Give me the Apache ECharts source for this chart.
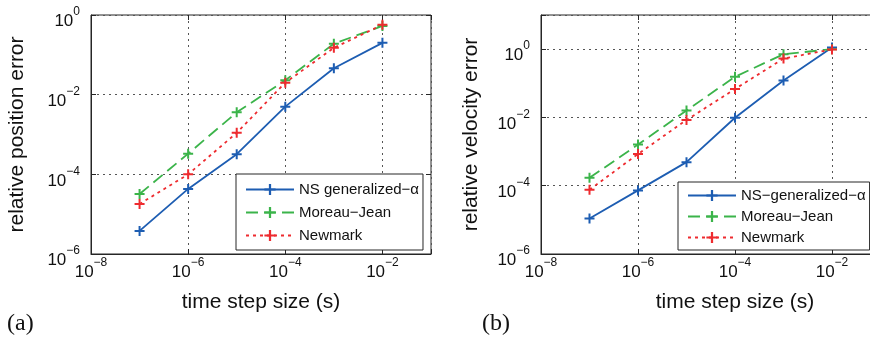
<!DOCTYPE html>
<html>
<head>
<meta charset="utf-8">
<script src="https://cdn.jsdelivr.net/npm/echarts@6/dist/echarts.min.js"></script>
<style>
  html, body { margin: 0; padding: 0; background: #fff; overflow: hidden; width: 870px; height: 340px; }
  /* the right panel runs past the page edge, so the canvas is wider than the page */
  #chart { width: 940px; height: 340px; }
</style>
</head>
<body>
<div id="chart"></div>
<script>
// Time step sizes used in the convergence study (s)
var stepSizes = [1e-7, 1e-6, 1e-5, 1e-4, 1e-3, 1e-2];

// (a) relative position error
var posNSGeneralizedAlpha = [3.8e-6, 4.3e-5, 3.2e-4, 5.0e-3, 0.046, 0.20];
var posMoreauJean = [3.2e-5, 3.3e-4, 3.6e-3, 0.023, 0.19, 0.53];
var posNewmark = [1.8e-5, 1.0e-4, 1.1e-3, 0.020, 0.15, 0.57];

// (b) relative velocity error
var velNSGeneralizedAlpha = [1.1e-5, 7.3e-5, 4.9e-4, 9.8e-3, 0.12, 1.12];
var velMoreauJean = [1.7e-4, 1.6e-3, 0.016, 0.155, 0.71, 1.0];
var velNewmark = [7.6e-5, 8.5e-4, 8.4e-3, 0.068, 0.53, 0.98];

// Labelled decades on the axes
var xTickValues = [1e-8, 1e-6, 1e-4, 1e-2];
var yTickValues = [1e-6, 1e-4, 1e-2, 1e0];

var names = {
  nsA: 'NS generalized\u2212\u03b1',
  nsB: 'NS\u2212generalized\u2212\u03b1',
  mj: 'Moreau\u2212Jean',
  nm: 'Newmark'
};

var colors = { blue: '#1d5db2', green: '#3bb44a', red: '#ee2b2f' };
var frameColor = '#262626';
var sansFont = '"Liberation Sans", Arial, Helvetica, sans-serif';

// plus-shaped marker
var plusSymbol = 'path://M4,0 L6,0 L6,4 L10,4 L10,6 L6,6 L6,10 L4,10 L4,6 L0,6 L0,4 L4,4 Z';

function pairs(xs, ys) {
  return xs.map(function (x, i) { return [x, ys[i]]; });
}

function exponentOf(v) {
  return Math.round(Math.log10(v));
}

function isLabelled(list, v) {
  var e = exponentOf(v);
  return list.some(function (t) { return exponentOf(t) === e; }) &&
    Math.abs(Math.log10(v) - e) < 1e-6;
}

function powerLabel(list) {
  return function (v) {
    if (!isLabelled(list, v)) return '';
    var e = exponentOf(v);
    var s = e < 0 ? '\u2212' + Math.abs(e) : String(e);
    return '{b|10}{s|' + s + '}';
  };
}

var richPow = {
  b: { fontSize: 17, fontFamily: sansFont, color: '#111', lineHeight: 24, verticalAlign: 'bottom' },
  s: { fontSize: 12, fontFamily: sansFont, color: '#111', lineHeight: 24, verticalAlign: 'top' }
};

function xAxisFor(gridIndex, bottom, max) {
  return {
    type: 'log',
    logBase: 10,
    gridIndex: gridIndex,
    position: bottom ? 'bottom' : 'top',
    min: 1e-8,
    max: max,
    interval: 2,
    name: bottom ? 'time step size (s)' : '',
    nameLocation: 'middle',
    nameGap: 38,
    nameTextStyle: { fontSize: 21, fontFamily: sansFont, color: '#111' },
    axisLine: { show: bottom, lineStyle: { color: frameColor, width: 1 } },
    axisTick: { show: true, inside: true, length: 5, lineStyle: { color: frameColor } },
    minorTick: { show: false },
    axisLabel: {
      show: bottom,
      margin: 3,
      formatter: powerLabel(xTickValues),
      rich: richPow
    },
    splitLine: {
      show: bottom,
      lineStyle: { color: '#555', type: [2, 4], width: 1 }
    }
  };
}

function yAxisFor(gridIndex, left, max, title, nameGap) {
  return {
    type: 'log',
    logBase: 10,
    gridIndex: gridIndex,
    position: left ? 'left' : 'right',
    min: 1e-6,
    max: max,
    interval: 2,
    name: left ? title : '',
    nameLocation: 'middle',
    nameGap: nameGap,
    nameTextStyle: { fontSize: 21, fontFamily: sansFont, color: '#111' },
    axisLine: { show: left, lineStyle: { color: frameColor, width: 1 } },
    axisTick: { show: true, inside: true, length: 5, lineStyle: { color: frameColor } },
    minorTick: { show: false },
    axisLabel: {
      show: left,
      margin: 11,
      padding: [6, 0, 0, 0],
      formatter: powerLabel(yTickValues),
      rich: richPow
    },
    splitLine: {
      show: left,
      lineStyle: { color: '#555', type: [2, 4], width: 1 }
    }
  };
}

function lineSeries(name, xIdx, yIdx, ys, color, dash) {
  return {
    type: 'line',
    name: name,
    xAxisIndex: xIdx,
    yAxisIndex: yIdx,
    data: pairs(stepSizes, ys),
    symbol: plusSymbol,
    symbolSize: 10,
    showAllSymbol: true,
    animation: false,
    lineStyle: { color: color, width: 1.8, type: dash },
    itemStyle: { color: color },
    z: 3
  };
}

var legendText = { fontSize: 15, fontFamily: sansFont, color: '#111', lineHeight: 14 };

var option = {
  backgroundColor: '#fff',
  animation: false,
  grid: [
    { left: 91, top: 15, width: 340, height: 239, show: true, borderColor: frameColor, borderWidth: 1, backgroundColor: 'transparent' },
    { left: 541, top: 15, width: 388, height: 239, show: true, borderColor: frameColor, borderWidth: 1, backgroundColor: 'transparent' }
  ],
  xAxis: [
    xAxisFor(0, true, 1e-1),
    xAxisFor(0, false, 1e-1),
    xAxisFor(1, true, 1e0),
    xAxisFor(1, false, 1e0)
  ],
  yAxis: [
    yAxisFor(0, true, 1e0, 'relative position error', 63),
    yAxisFor(0, false, 1e0, '', 0),
    yAxisFor(1, true, 1e1, 'relative velocity error', 59),
    yAxisFor(1, false, 1e1, '', 0)
  ],
  legend: [
    {
      orient: 'vertical',
      left: 236,
      top: 174,
      padding: [8, 4, 7, 9],
      itemWidth: 48,
      itemHeight: 14,
      itemGap: 8,
      borderColor: frameColor,
      borderWidth: 1,
      backgroundColor: '#fff',
      selectedMode: false,
      textStyle: legendText,
      data: [names.nsA, names.mj, names.nm]
    },
    {
      orient: 'vertical',
      left: 678,
      top: 182,
      padding: [6, 4, 5, 9],
      itemWidth: 48,
      itemHeight: 14,
      itemGap: 6,
      borderColor: frameColor,
      borderWidth: 1,
      backgroundColor: '#fff',
      selectedMode: false,
      textStyle: legendText,
      data: [names.nsB, names.mj, names.nm]
    }
  ],
  graphic: [
    { type: 'text', left: 7, top: 312, style: { text: '(a)', font: '24px "Liberation Serif", "Times New Roman", serif', fill: '#111' } },
    { type: 'text', left: 482, top: 312, style: { text: '(b)', font: '24px "Liberation Serif", "Times New Roman", serif', fill: '#111' } }
  ],
  series: [
    lineSeries(names.nsA, 0, 0, posNSGeneralizedAlpha, colors.blue, 'solid'),
    lineSeries(names.mj, 0, 0, posMoreauJean, colors.green, [12, 6]),
    lineSeries(names.nm, 0, 0, posNewmark, colors.red, [3, 4]),
    lineSeries(names.nsB, 2, 2, velNSGeneralizedAlpha, colors.blue, 'solid'),
    lineSeries(names.mj, 2, 2, velMoreauJean, colors.green, [12, 6]),
    lineSeries(names.nm, 2, 2, velNewmark, colors.red, [3, 4])
  ]
};

var chart = echarts.init(document.getElementById('chart'), null, { renderer: 'canvas' });
chart.setOption(option);
</script>
</body>
</html>
